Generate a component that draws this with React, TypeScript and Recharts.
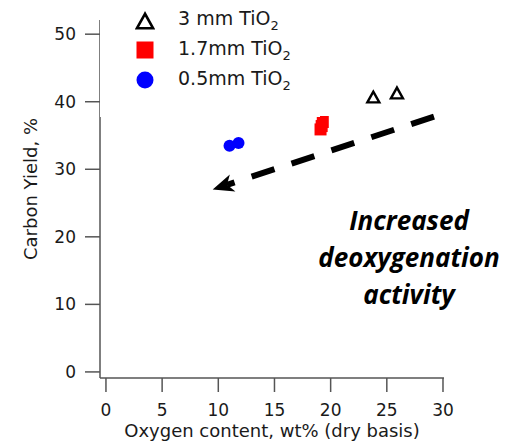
import React from 'react';
import { ScatterChart, Scatter, XAxis, YAxis, ReferenceLine, Legend } from 'recharts';

// sample size series (oxygen content wt%, carbon yield %)
const seriesNames = ['3 mm TiO2', '1.7mm TiO2', '0.5mm TiO2'];
const seriesColors = ['#000000', '#ff0000', '#0000ff'];
const tio2Large = [
  { x: 23.8, y: 40.7 },
  { x: 25.9, y: 41.3 },
];
const tio2Mid = [
  { x: 19.1, y: 35.9 },
  { x: 19.2, y: 36.4 },
  { x: 19.3, y: 37.0 },
];
const tio2Small = [
  { x: 11.0, y: 33.5 },
  { x: 11.8, y: 33.9 },
];

const xTicks = [0, 5, 10, 15, 20, 25, 30];
const yTicks = [0, 10, 20, 30, 40, 50];
const trendArrow = [
  { x: 29.2, y: 37.8 },
  { x: 9.5, y: 27.0 },
];
const noteLines = ['Increased', 'deoxygenation', 'activity'];

const FONT = '"DejaVu Sans", sans-serif';

const Triangle = ({ cx, cy, side = 12, sw = 2.4 }: any) => {
  const h = side * 0.9;
  return (
    <polygon
      points={`${cx},${cy - h / 2} ${cx - side / 2},${cy + h / 2} ${cx + side / 2},${cy + h / 2}`}
      fill="none"
      stroke="#000"
      strokeWidth={sw}
    />
  );
};

const Square = ({ cx, cy, side = 12 }: any) => (
  <rect x={cx - side / 2} y={cy - side / 2} width={side} height={side} fill="#ff0000" />
);

const Dot = ({ cx, cy, rad = 6 }: any) => <circle cx={cx} cy={cy} r={rad} fill="#0000ff" />;

const DashedArrow = (props: any) => {
  const { x1, y1, x2, y2 } = props;
  const dx = x2 - x1;
  const dy = y2 - y1;
  const len = Math.hypot(dx, dy);
  const ux = dx / len;
  const uy = dy / len;
  const nx = -uy;
  const ny = ux;
  const head = 21;
  const half = 9;
  const bx = x2 - ux * head;
  const by = y2 - uy * head;
  const mx = x2 - ux * head * 0.72;
  const my = y2 - uy * head * 0.72;
  return (
    <g>
      <line x1={x1} y1={y1} x2={mx} y2={my} stroke="#000" strokeWidth={6} strokeDasharray="24 18" />
      <polygon
        points={`${x2},${y2} ${bx + nx * half},${by + ny * half} ${mx},${my} ${bx - nx * half},${by - ny * half}`}
        fill="#000"
      />
    </g>
  );
};

const YTitle = ({ viewBox }: any) => {
  const cx = viewBox.x + 30;
  const cy = viewBox.y + viewBox.height / 2 - 10;
  return (
    <text
      x={cx}
      y={cy}
      transform={`rotate(-90 ${cx} ${cy})`}
      textAnchor="middle"
      dominantBaseline="central"
      fontSize={18}
      fontFamily={FONT}
      fill="#1a1a1a"
    >
      Carbon Yield, %
    </text>
  );
};

const markers = [
  <svg width={20} height={20}><Triangle cx={10} cy={11} side={16} sw={2.6} /></svg>,
  <svg width={20} height={20}><Square cx={10} cy={10} side={17} /></svg>,
  <svg width={20} height={20}><Dot cx={10} cy={10} rad={8.5} /></svg>,
];

const LegendBox = () => (
  <div style={{ paddingTop: 5, fontFamily: FONT, fontSize: 19, color: '#1a1a1a' }}>
    {seriesNames.map((name, i) => (
      <div key={name} style={{ display: 'flex', alignItems: 'center', height: 30 }}>
        <div style={{ width: 20, marginLeft: 35, marginRight: 23, display: 'flex' }}>{markers[i]}</div>
        <span style={{ whiteSpace: 'nowrap' }}>
          {name.slice(0, -1)}
          <sub style={{ fontSize: 13, verticalAlign: -5 }}>{name.slice(-1)}</sub>
        </span>
      </div>
    ))}
  </div>
);

export default function App() {
  return (
    <div style={{ position: 'absolute', left: 0, top: 0, width: 510, height: 443, background: '#fff' }}>
      <ScatterChart width={510} height={443} margin={{ top: 20, right: 66, bottom: 0, left: 0 }}>
        <XAxis
          type="number"
          dataKey="x"
          domain={[-0.53, 30.09]}
          allowDataOverflow
          ticks={xTicks}
          tickSize={14}
          tickMargin={12}
          height={65}
          stroke="#555"
          strokeWidth={1.5}
          tick={{ fill: '#1a1a1a', fontSize: 17, fontFamily: FONT }}
          label={{
            value: 'Oxygen content, wt% (dry basis)',
            position: 'insideBottom',
            offset: 6,
            fill: '#1a1a1a',
            fontSize: 18,
            fontFamily: FONT,
          }}
        />
        <YAxis
          type="number"
          dataKey="y"
          domain={[-0.9, 52.1]}
          allowDataOverflow
          ticks={yTicks}
          tickSize={15}
          tickMargin={9}
          width={100}
          stroke="#555"
          strokeWidth={1.5}
          tick={{ fill: '#1a1a1a', fontSize: 17, fontFamily: FONT }}
          label={<YTitle />}
        />
        <Legend
          layout="vertical"
          align="center"
          verticalAlign="middle"
          content={<LegendBox />}
          wrapperStyle={{ left: 100, top: 0, width: 220, height: 117, background: '#fff' }}
        />
        <ReferenceLine segment={trendArrow} shape={<DashedArrow />} />
        <Scatter name={seriesNames[2]} data={tio2Small} fill={seriesColors[2]} shape={<Dot />} isAnimationActive={false} />
        <Scatter name={seriesNames[1]} data={tio2Mid} fill={seriesColors[1]} shape={<Square />} isAnimationActive={false} />
        <Scatter name={seriesNames[0]} data={tio2Large} fill={seriesColors[0]} shape={<Triangle />} isAnimationActive={false} />
      </ScatterChart>
      <div
        style={{
          position: 'absolute',
          left: 309,
          top: 202,
          width: 200,
          textAlign: 'center',
          fontFamily: '"Open Sans", sans-serif',
          fontWeight: 700,
          fontStyle: 'italic',
          fontSize: 26,
          lineHeight: '37px',
          color: '#000',
        }}
      >
        {noteLines.map((l) => (
          <div key={l}>{l}</div>
        ))}
      </div>
    </div>
  );
}
